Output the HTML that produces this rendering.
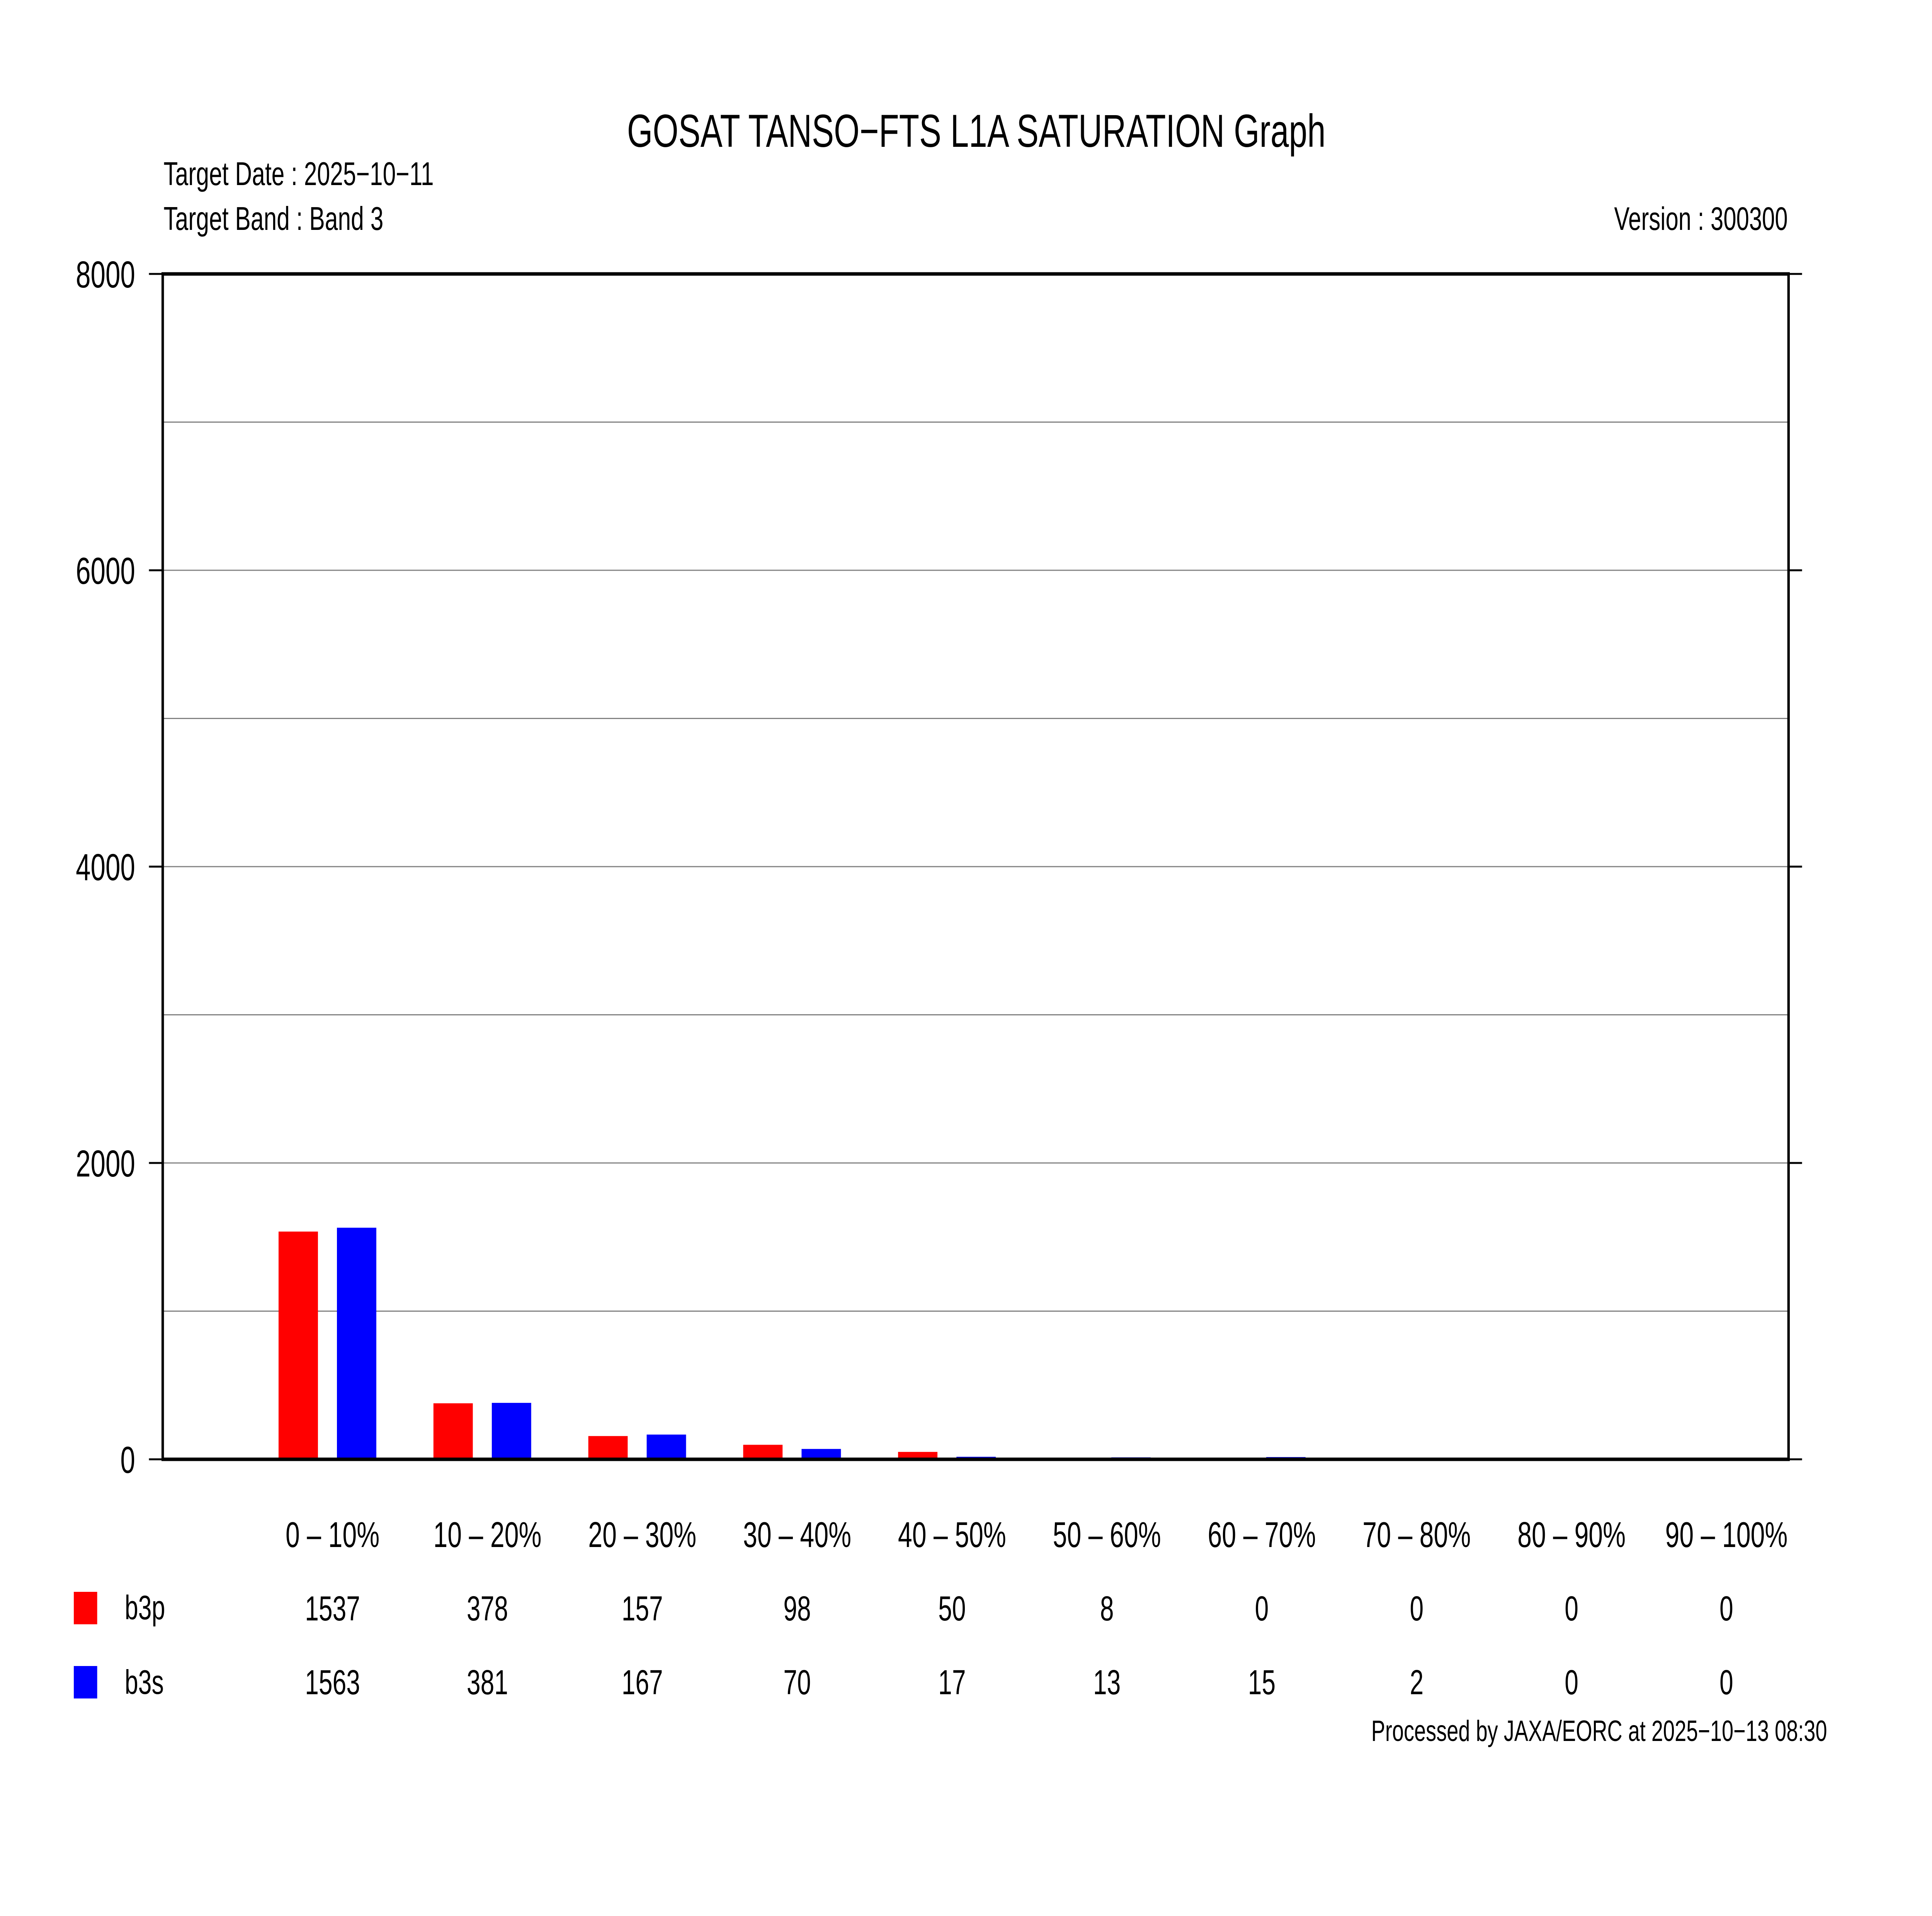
<!DOCTYPE html>
<html><head><meta charset="utf-8"><title>GOSAT TANSO-FTS L1A SATURATION Graph</title>
<style>html,body{margin:0;padding:0;background:#fff;width:100%;height:100%;overflow:hidden;}svg{display:block;width:100vw;height:100vh;font-family:"Liberation Sans",Arial,sans-serif;white-space:pre;}</style>
</head><body>
<svg id="chart" xmlns="http://www.w3.org/2000/svg" viewBox="0 0 7017 4959" preserveAspectRatio="none" xml:space="preserve">
<rect x="0" y="0" width="7017" height="4959" fill="#fff"/>
<text x="3546" y="380" font-size="120" text-anchor="middle">GOSAT TANSO−FTS L1A SATURATION Graph</text>
<text x="594" y="479" font-size="85">Target Date : 2025−10−11</text>
<text x="594" y="595" font-size="85">Target Band : Band 3</text>
<text x="6493" y="595" font-size="84" text-anchor="end">Version : 300300</text>
<text x="6636" y="4506" font-size="76" text-anchor="end">Processed by JAXA/EORC at 2025−10−13 08:30</text>
<g id="grid"></g><g id="bars"></g><g id="axes"></g><g id="labels"></g>
<rect x="268" y="4120" width="85" height="84" fill="#ff0000"/>
<text x="453" y="4191" font-size="88">b3p</text>
<rect x="268" y="4312" width="85" height="84" fill="#0000ff"/>
<text x="453" y="4384" font-size="88">b3s</text>
</svg>
<script>
const categories = ["0 –  10%","10 –  20%","20 –  30%","30 –  40%","40 –  50%","50 –  60%","60 –  70%","70 –  80%","80 –  90%","90 – 100%"];
const b3p = [1537,378,157,98,50,8,0,0,0,0];
const b3s = [1563,381,167,70,17,13,15,2,0,0];
const yTicks = [0,2000,4000,6000,8000];
const yGrid = [1000,2000,3000,4000,5000,6000,7000];

const NS="http://www.w3.org/2000/svg";
const L=591, R=6496, T=709, B=3777, YMAX=8000, STEP=562.5;
function y(v){return B-(v/YMAX)*(B-T);}
function xc(i){return 589+STEP*(i+1.1);}
function mk(tag,attrs,parent){const e=document.createElementNS(NS,tag);for(const k in attrs)e.setAttribute(k,attrs[k]);parent.appendChild(e);return e;}
const grid=document.getElementById('grid'),bars=document.getElementById('bars'),axes=document.getElementById('axes'),labels=document.getElementById('labels');

yGrid.forEach(v=>{
  const g=mk('line',{x1:L,x2:R,y1:y(v),y2:y(v),stroke:'#808080','stroke-width':3},grid);
  
  
});
categories.forEach((c,i)=>{
  const cx=xc(i);
  const hp=Math.max(B-y(b3p[i]),2), hs=Math.max(B-y(b3s[i]),2);
  const rp=mk('rect',{x:cx-196,y:B-hp,width:143,height:hp,fill:'#ff0000'},bars);
  
  
  const rs=mk('rect',{x:cx+16,y:B-hs,width:143,height:hs,fill:'#0000ff'},bars);
  
  
  const t=mk('text',{x:cx,y:4004,'font-size':93,'text-anchor':'middle'},labels);t.textContent=c;
  
  
  const tp=mk('text',{x:cx,y:4194,'font-size':90,'text-anchor':'middle'},labels);tp.textContent=b3p[i];
  
  
  const ts=mk('text',{x:cx,y:4385,'font-size':90,'text-anchor':'middle'},labels);ts.textContent=b3s[i];
  
  
});
const frame=mk('rect',{x:L,y:T,width:R-L,height:B-T,fill:'none',stroke:'#000','stroke-width':9},axes);


yTicks.forEach(v=>{
  const tl=mk('line',{x1:541,x2:L,y1:y(v),y2:y(v),stroke:'#000','stroke-width':5},axes);
  
  
  const tr=mk('line',{x1:R,x2:6545,y1:y(v),y2:y(v),stroke:'#000','stroke-width':5},axes);
  
  
  const t=mk('text',{x:491,y:y(v)+35,'font-size':97,'text-anchor':'end'},labels);t.textContent=v;
  
  
});
</script>
</body></html>
